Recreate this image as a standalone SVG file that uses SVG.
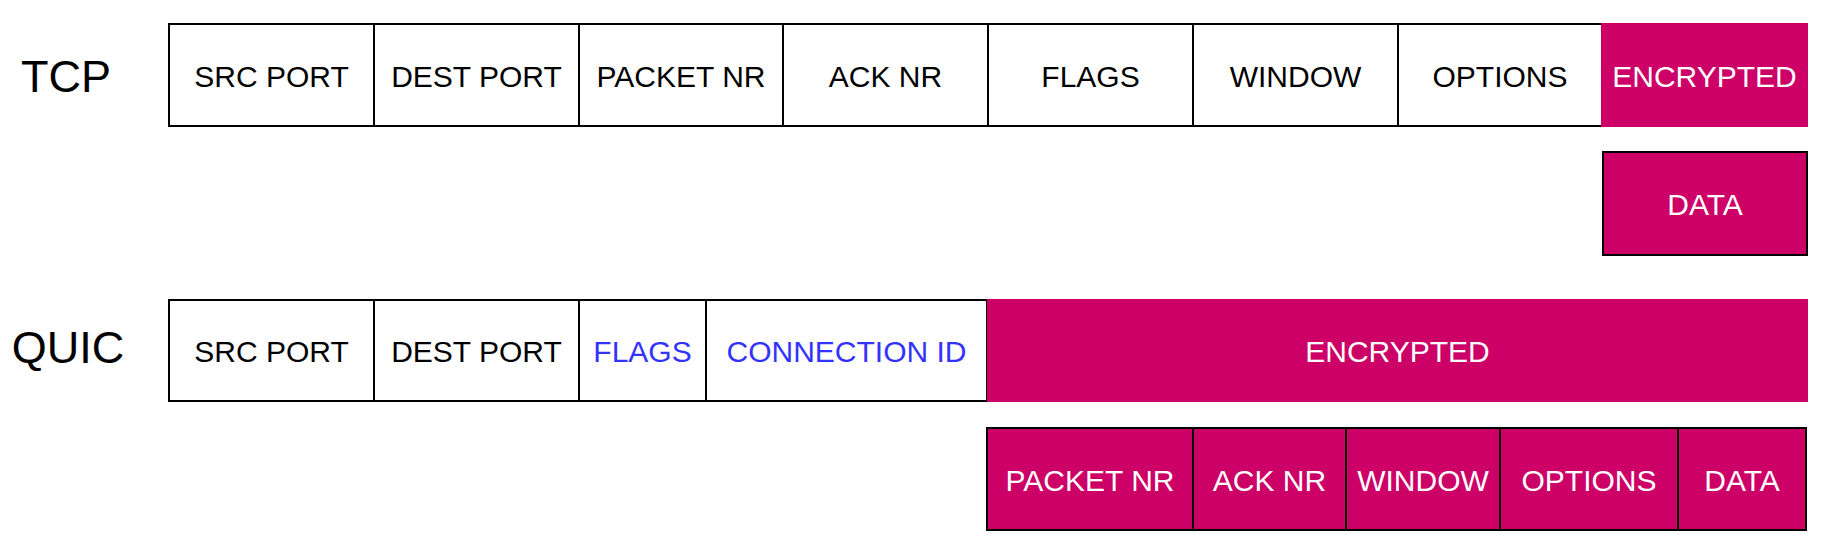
<svg xmlns="http://www.w3.org/2000/svg" width="1825" height="547" viewBox="0 0 1825 547">
<style>
.c{fill:#ffffff;stroke:#000000;stroke-width:2}
.e{fill:#cc0066;stroke:none}
.eb{fill:#cc0066;stroke:#000000;stroke-width:2}
text{font-family:"Liberation Sans",Arial,sans-serif;text-anchor:middle}
.t{font-size:30px;fill:#000000}
.w{font-size:30px;fill:#ffffff}
.b{font-size:30px;fill:#3333ff}
.lbl{font-size:45px;fill:#000000}
</style>
<rect width="1825" height="547" fill="#ffffff"/>
<g id="label-tcp"><text class="lbl" x="66" y="92">TCP</text></g>
<g id="label-quic"><text class="lbl" x="68" y="363">QUIC</text></g>

<g id="tcp-src"><rect class="c" x="169" y="24" width="205" height="102"/><text class="t" x="271.5" y="87">SRC PORT</text></g>
<g id="tcp-dest"><rect class="c" x="374" y="24" width="205" height="102"/><text class="t" x="476.5" y="87">DEST PORT</text></g>
<g id="tcp-pkt"><rect class="c" x="579" y="24" width="204" height="102"/><text class="t" x="681" y="87">PACKET NR</text></g>
<g id="tcp-ack"><rect class="c" x="783" y="24" width="205" height="102"/><text class="t" x="885.5" y="87">ACK NR</text></g>
<g id="tcp-flags"><rect class="c" x="988" y="24" width="205" height="102"/><text class="t" x="1090.5" y="87">FLAGS</text></g>
<g id="tcp-window"><rect class="c" x="1193" y="24" width="205" height="102"/><text class="t" x="1295.5" y="87">WINDOW</text></g>
<g id="tcp-options"><rect class="c" x="1398" y="24" width="204" height="102"/><text class="t" x="1500" y="87">OPTIONS</text></g>
<g id="tcp-enc"><rect class="e" x="1601" y="23" width="207" height="104"/><text class="w" x="1704.5" y="87">ENCRYPTED</text></g>
<g id="tcp-data"><rect class="eb" x="1603" y="152" width="204" height="103"/><text class="w" x="1705" y="215">DATA</text></g>

<g id="quic-src"><rect class="c" x="169" y="300" width="205" height="101"/><text class="t" x="271.5" y="362">SRC PORT</text></g>
<g id="quic-dest"><rect class="c" x="374" y="300" width="205" height="101"/><text class="t" x="476.5" y="362">DEST PORT</text></g>
<g id="quic-flags"><rect class="c" x="579" y="300" width="127" height="101"/><text class="b" x="642.5" y="362">FLAGS</text></g>
<g id="quic-connid"><rect class="c" x="706" y="300" width="281" height="101"/><text class="b" x="846.5" y="362">CONNECTION ID</text></g>
<g id="quic-enc"><rect class="e" x="987" y="299" width="821" height="103"/><text class="w" x="1397.5" y="362">ENCRYPTED</text></g>

<g id="quic-pkt"><rect class="eb" x="987" y="428" width="206" height="102"/><text class="w" x="1090" y="491">PACKET NR</text></g>
<g id="quic-ack"><rect class="eb" x="1193" y="428" width="153" height="102"/><text class="w" x="1269.5" y="491">ACK NR</text></g>
<g id="quic-window"><rect class="eb" x="1346" y="428" width="154" height="102"/><text class="w" x="1423" y="491">WINDOW</text></g>
<g id="quic-options"><rect class="eb" x="1500" y="428" width="178" height="102"/><text class="w" x="1589" y="491">OPTIONS</text></g>
<g id="quic-data"><rect class="eb" x="1678" y="428" width="128" height="102"/><text class="w" x="1742" y="491">DATA</text></g>
<g id="connectors"></g>
</svg>
